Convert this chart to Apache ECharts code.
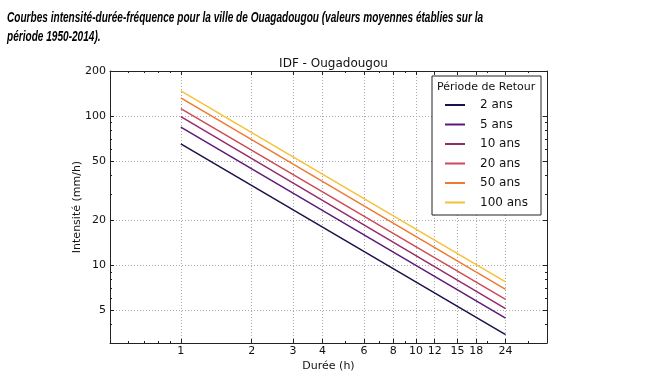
<!DOCTYPE html>
<html>
<head>
<meta charset="utf-8">
<script src="https://cdn.jsdelivr.net/npm/echarts@6/dist/echarts.min.js"></script>
<style>html,body{margin:0;padding:0;background:#fff}#c{width:653px;height:388px}</style>
</head>
<body>
<div id="c"></div>
<script>
// Data (intensity in mm/h at 1 h and 24 h; straight lines in log-log)
var durations = [1, 24];
var seriesNames = ['2 ans', '5 ans', '10 ans', '20 ans', '50 ans', '100 ans'];
var intensity2 = [65, 3.41];
var intensity5 = [84, 4.41];
var intensity10 = [99, 5.10];
var intensity20 = [112, 5.89];
var intensity50 = [132, 6.87];
var intensity100 = [147, 7.7];
var xTickLabels = [1, 2, 3, 4, 6, 8, 10, 12, 15, 18, 24];
var xMinorTicks = [0.6, 0.7, 0.8, 0.9, 2, 3, 4, 5, 6, 7, 8, 9, 20, 30];
var yTickLabels = [5, 10, 20, 50, 100, 200];
var yMinorTicks = [3, 4, 6, 7, 8, 9, 30, 40, 60, 70, 80, 90];
var colors = ['#1e0f4a', '#5b1a78', '#962b69', '#cd4b55', '#ee7a30', '#f6c13a'];

var allValues = [intensity2, intensity5, intensity10, intensity20, intensity50, intensity100];

var chart = echarts.init(document.getElementById('c'), null, {renderer: 'canvas'});
var FONT = '"DejaVu Sans", sans-serif';
var axisCol = '#222';
var xMin = 0.5, xMax = 36, yMin = 3, yMax = 200;

function xAx(pos, ticks, len, main) {
  return {
    type: 'log', position: pos, min: xMin, max: xMax, gridIndex: 0,
    axisLine: {show: main, lineStyle: {color: axisCol, width: 1}},
    axisTick: {show: true, inside: true, length: len, customValues: ticks, lineStyle: {color: axisCol, width: 1}},
    axisLabel: {show: main && pos === 'bottom', customValues: ticks, fontFamily: FONT, fontSize: 11, color: '#111', margin: 3},
    splitLine: {show: main && pos === 'bottom', lineStyle: {color: '#aaa', width: 1, type: [1, 2]}},
    minorTick: {show: false}, minorSplitLine: {show: false},
    name: (main && pos === 'bottom') ? 'Durée (h)' : '',
    nameLocation: 'middle', nameGap: 18, nameMoveOverlap: false,
    nameTextStyle: {fontFamily: FONT, fontSize: 11, color: '#111'}
  };
}
function yAx(pos, ticks, len, main) {
  return {
    type: 'log', position: pos, min: yMin, max: yMax, gridIndex: 0,
    axisLine: {show: main, lineStyle: {color: axisCol, width: 1}},
    axisTick: {show: true, inside: true, length: len, customValues: ticks, lineStyle: {color: axisCol, width: 1}},
    axisLabel: {show: main && pos === 'left', customValues: ticks, fontFamily: FONT, fontSize: 11, color: '#111', margin: 4},
    splitLine: {show: main && pos === 'left', lineStyle: {color: '#aaa', width: 1, type: [1, 2]}},
    minorTick: {show: false}, minorSplitLine: {show: false},
    name: (main && pos === 'left') ? 'Intensité (mm/h)' : '',
    nameLocation: 'middle', nameGap: 27, nameMoveOverlap: false,
    nameTextStyle: {fontFamily: FONT, fontSize: 11, color: '#111'}
  };
}

var series = seriesNames.map(function (n, i) {
  return {
    name: n, type: 'line', xAxisIndex: 0, yAxisIndex: 0,
    data: durations.map(function (d, j) { return [d, allValues[i][j]]; }),
    showSymbol: false, symbol: 'none',
    lineStyle: {color: colors[i], width: 1.5},
    itemStyle: {color: colors[i]},
    z: 3, animation: false
  };
});

var headFont = 'italic bold 14px "Liberation Sans", sans-serif';

chart.setOption({
  animation: false,
  backgroundColor: '#fff',
  title: {
    text: 'IDF - Ougadougou', left: 328.5, textAlign: 'center', top: 53,
    textStyle: {fontFamily: FONT, fontSize: 12, fontWeight: 'normal', color: '#111'}
  },
  grid: {left: 110, right: 106, top: 71, bottom: 45, containLabel: false},
  xAxis: [xAx('bottom', xTickLabels, 4, true), xAx('bottom', xMinorTicks, 2, false),
          xAx('top', xTickLabels, 4, true), xAx('top', xMinorTicks, 2, false)],
  yAxis: [yAx('left', yTickLabels, 4, true), yAx('left', yMinorTicks, 2, false),
          yAx('right', yTickLabels, 4, true), yAx('right', yMinorTicks, 2, false)],
  legend: {
    data: seriesNames, orient: 'vertical', left: 445, top: 97,
    icon: 'rect', itemWidth: 20, itemHeight: 2, itemGap: 3.5,
    padding: 0,
    textStyle: {fontFamily: FONT, fontSize: 12, color: '#111', lineHeight: 16, padding: [0, 0, 0, 10]},
    z: 5
  },
  graphic: [
    {type: 'rect', z: 1, shape: {x: 432, y: 76, width: 109, height: 139},
     style: {fill: '#fff', stroke: '#222', lineWidth: 1}},
    {type: 'text', z: 5, x: 437, y: 82,
     style: {text: 'Période de Retour', font: '11px "DejaVu Sans"', fill: '#111'}},
    {type: 'text', z: 5, x: 7, y: 11, scaleX: 0.72,
     style: {text: 'Courbes intensité-durée-fréquence pour la ville de Ouagadougou (valeurs moyennes établies sur la',
             font: headFont, fill: '#000'}},
    {type: 'text', z: 5, x: 7, y: 30, scaleX: 0.72,
     style: {text: 'période 1950-2014).', font: headFont, fill: '#000'}}
  ],
  series: series
});
</script>
</body>
</html>
